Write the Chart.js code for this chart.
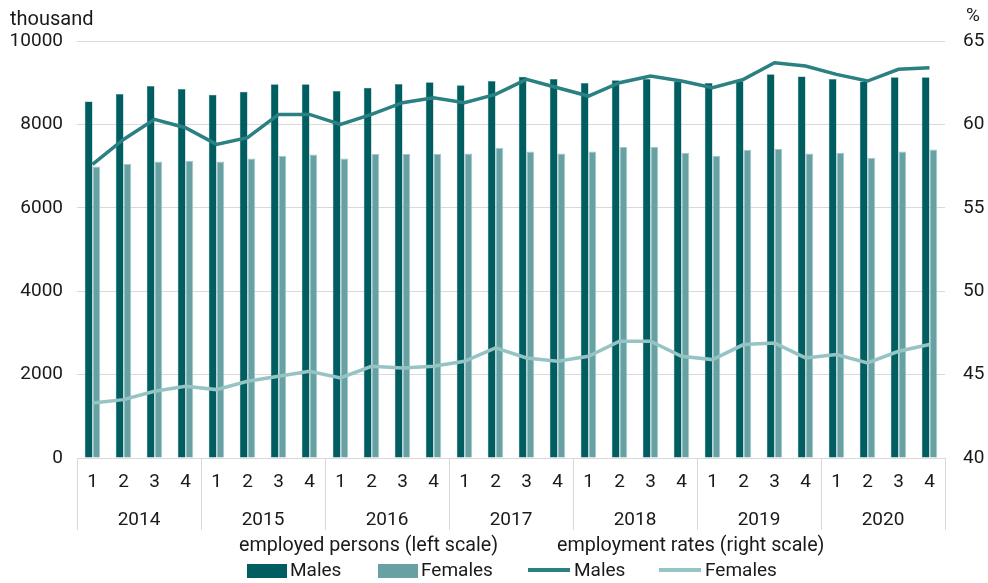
<!DOCTYPE html>
<html>
<head>
<meta charset="utf-8">
<script src="https://cdn.jsdelivr.net/npm/chart.js@4/dist/chart.umd.min.js"></script>
<style>
  body { margin: 0; background: #fff; font-family: Roboto, sans-serif; color: #1a1a1a; }
  #wrap { position: relative; width: 988px; height: 583px; }
  .txt { position: absolute; font-size: 19px; white-space: nowrap; }
  .box { position: absolute; width: 40px; height: 14px; }
  .ln { position: absolute; width: 42px; height: 4px; }
</style>
</head>
<body>
<div id="wrap">
  <canvas id="chart" width="988" height="583"></canvas>
  <div class="txt" style="left:10px; top:6px; font-size:20px;">thousand</div>
  <div class="txt" style="left:966px; top:3px;">%</div>
  <div class="txt" style="left:239px; top:533px; font-size:19.7px;">employed persons (left scale)</div>
  <div class="txt" style="left:557px; top:533px; font-size:19.7px;">employment rates (right scale)</div>
  <div class="box" style="left:247px; top:564px; background:#005e60;"></div>
  <div class="txt" style="left:290px; top:558px;">Males</div>
  <div class="box" style="left:378px; top:564px; background:#68a1a3;"></div>
  <div class="txt" style="left:421px; top:558px;">Females</div>
  <div class="ln" style="left:528px; top:568px; background:#2a8082;"></div>
  <div class="txt" style="left:574px; top:558px;">Males</div>
  <div class="ln" style="left:659px; top:568px; background:#96c4c5;"></div>
  <div class="txt" style="left:705px; top:558px;">Females</div>
</div>
<script>
const quarters = ['1', '2', '3', '4', '1', '2', '3', '4', '1', '2', '3', '4', '1', '2', '3', '4',
    '1', '2', '3', '4', '1', '2', '3', '4', '1', '2', '3', '4'];
const years = ['2014', '2015', '2016', '2017', '2018', '2019', '2020'];

// employed persons, thousand (left scale)
const malesEmployed = [8550, 8730, 8920, 8850, 8710, 8780, 8960, 8960, 8800, 8880, 8970, 9010, 8940, 9040,
    9140, 9090, 8990, 9060, 9090, 9030, 8990, 9040, 9200, 9150, 9090, 9030, 9130, 9130];
const femalesEmployed = [6990, 7050, 7110, 7130, 7110, 7180, 7250, 7280, 7180, 7290, 7290, 7290, 7300, 7440,
    7350, 7300, 7350, 7460, 7460, 7320, 7250, 7390, 7410, 7300, 7320, 7200, 7350, 7400];

// employment rates, % (right scale)
const malesRate = [57.6, 59.1, 60.3, 59.8, 58.8, 59.2, 60.6, 60.6, 60.0, 60.6, 61.3, 61.6, 61.3, 61.8,
    62.7, 62.2, 61.7, 62.5, 62.9, 62.6, 62.2, 62.7, 63.7, 63.5, 63.0, 62.6, 63.3, 63.4];
const femalesRate = [43.3, 43.5, 44.0, 44.3, 44.1, 44.6, 44.9, 45.2, 44.8, 45.5, 45.4, 45.5, 45.8, 46.6,
    46.0, 45.8, 46.1, 47.0, 47.0, 46.1, 45.9, 46.8, 46.9, 46.0, 46.2, 45.7, 46.4, 46.8];

const tickFont = { family: 'Roboto', size: 19 };
const textColor = '#1a1a1a';
const gridColor = '#d9d9d9';

// separator lines between the years under the plot
const yearLines = {
    id: 'yearLines',
    afterDraw(chart) {
        const x2 = chart.scales.x2;
        const ctx = chart.ctx;
        const w = x2.getPixelForValue(1) - x2.getPixelForValue(0);
        ctx.save();
        ctx.strokeStyle = gridColor;
        ctx.lineWidth = 1;
        for (let i = 0; i <= years.length; i++) {
            const x = Math.round(x2.getPixelForValue(0) - w / 2 + i * w) + 0.5;
            ctx.beginPath();
            ctx.moveTo(x, chart.chartArea.bottom);
            ctx.lineTo(x, x2.bottom);
            ctx.stroke();
        }
        ctx.restore();
    }
};

const config = {
    type: 'bar',
    data: {
        labels: quarters,
        datasets: [
            {
                type: 'line', label: 'Males', data: malesRate, yAxisID: 'y2',
                borderColor: '#2a8082', borderWidth: 3.5, pointRadius: 0, tension: 0, order: 0
            },
            {
                type: 'line', label: 'Females', data: femalesRate, yAxisID: 'y2',
                borderColor: '#96c4c5', borderWidth: 3.5, pointRadius: 0, tension: 0, order: 0
            },
            {
                label: 'Males', data: malesEmployed, yAxisID: 'y',
                backgroundColor: '#005e60', borderColor: '#3d8587', borderWidth: 0.5,
                barPercentage: 1, categoryPercentage: 0.5, order: 1
            },
            {
                label: 'Females', data: femalesEmployed, yAxisID: 'y',
                backgroundColor: '#68a1a3', borderColor: '#a3c8c9', borderWidth: 1,
                barPercentage: 1, categoryPercentage: 0.5, order: 1
            }
        ]
    },
    options: {
        responsive: false,
        animation: false,
        layout: { padding: { top: 41, left: 0, right: 0, bottom: 53 } },
        plugins: {
            legend: { display: false },
            tooltip: { enabled: false }
        },
        scales: {
            x: {
                grid: { display: false, drawTicks: false },
                border: { display: false },
                ticks: { font: tickFont, color: textColor, padding: 13, maxRotation: 0, autoSkip: false },
                afterFit(scale) { scale.height = 40; }
            },
            x2: {
                type: 'category',
                labels: years,
                position: 'bottom',
                offset: true,
                grid: { display: false, drawTicks: false },
                border: { display: false },
                ticks: { font: tickFont, color: textColor, padding: 11, maxRotation: 0 },
                afterFit(scale) { scale.height = 32; }
            },
            y: {
                position: 'left',
                min: 0, max: 10000,
                ticks: {
                    stepSize: 2000, font: tickFont, color: textColor, padding: 14,
                    callback: (v) => String(v)
                },
                grid: { color: gridColor, drawTicks: false },
                border: { display: false },
                afterFit(scale) { scale.width = 77; }
            },
            y2: {
                position: 'right',
                min: 40, max: 65,
                ticks: { stepSize: 5, font: tickFont, color: textColor, padding: 18 },
                grid: { display: false, drawTicks: false },
                border: { display: false },
                afterFit(scale) { scale.width = 43; }
            }
        }
    },
    plugins: [yearLines]
};

window.onload = function () {
    const ctx = document.getElementById('chart').getContext('2d');
    window.myChart = new Chart(ctx, config);
};
</script>
</body>
</html>
